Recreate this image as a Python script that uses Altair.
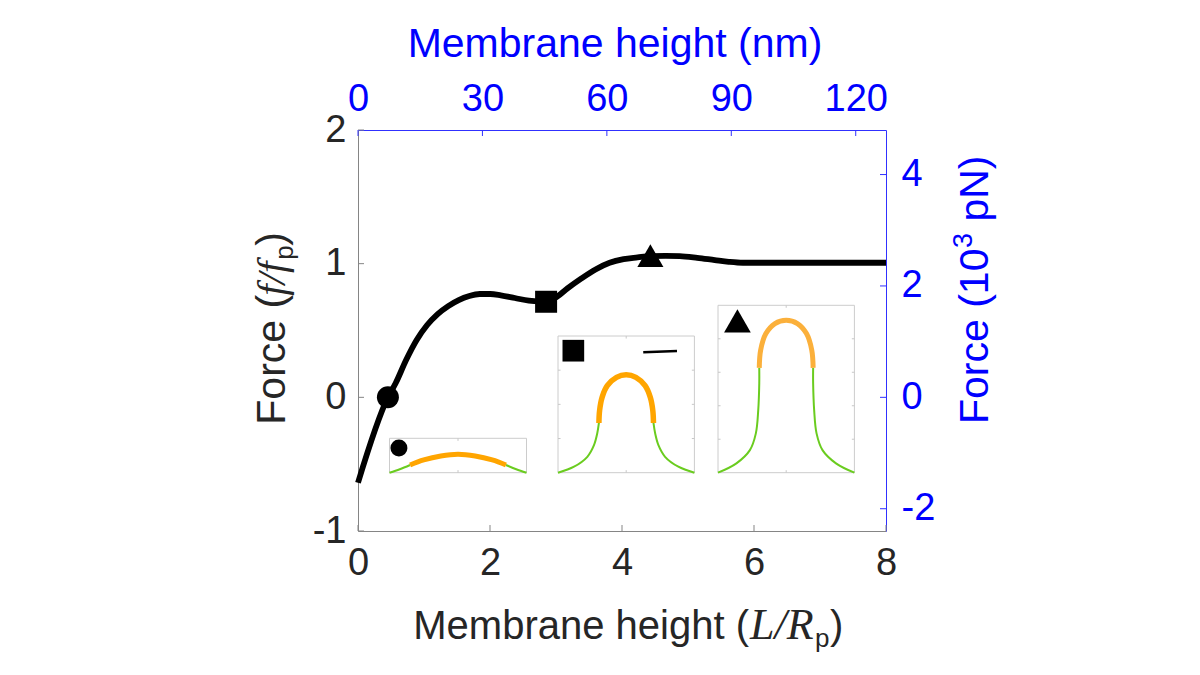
import altair as alt
import pandas as pd

# ---------------- data ----------------
# main force curve (membrane height L/Rp, force f/fp)
curve_x = [0.0, 0.453, 0.570, 0.729, 0.889, 1.048, 1.207, 1.367, 1.526, 1.686, 1.845,
           2.005, 2.164, 2.377, 2.589, 2.839, 3.014, 3.174, 3.386, 3.599, 3.812, 4.024,
           4.237, 4.423, 4.662, 4.874, 5.140, 5.406, 5.618, 5.831, 8.0]
curve_y = [-0.639, 0.0, 0.105, 0.279, 0.429, 0.541, 0.623, 0.683, 0.728, 0.758, 0.773,
           0.773, 0.763, 0.743, 0.723, 0.715, 0.752, 0.815, 0.890, 0.957, 1.007, 1.034,
           1.047, 1.057, 1.059, 1.057, 1.044, 1.027, 1.014, 1.007, 1.007]

marker_x = [0.453, 2.85, 4.43]
marker_y = [0.0, 0.715, 1.06]
marker_shape = ["circle", "square", "triangle-up"]

x_ticks = [0, 2, 4, 6, 8]
y_ticks = [-1, 0, 1, 2]
nm_ticks = [0, 30, 60, 90, 120]
pn_ticks = [-2, 0, 2, 4]

# inset membrane profiles (units of pore radius)
in1_gl_u = [-4.0, -3.4, -2.8]
in1_gl_v = [0.0, 0.2, 0.45]
in1_cap_u = [-2.8, -2.0, -1.0, 0.0, 1.0, 2.0, 2.8]
in1_cap_v = [0.45, 0.74, 0.97, 1.07, 0.97, 0.74, 0.45]
in1_gr_u = [2.8, 3.4, 4.0]
in1_gr_v = [0.45, 0.2, 0.0]

in2_gl_u = [-4.0, -3.06, -2.28, -1.89, -1.70, -1.60]
in2_gl_v = [0.0, 0.35, 0.93, 1.61, 2.29, 2.91]
in2_cap_u = [-1.60, -1.56, -1.41, -1.11, -0.57, 0.0, 0.57, 1.11, 1.41, 1.56, 1.60]
in2_cap_v = [2.91, 3.64, 4.42, 5.09, 5.58, 5.73, 5.58, 5.09, 4.42, 3.64, 2.91]
in2_gr_u = [1.60, 1.70, 1.89, 2.28, 3.06, 4.0]
in2_gr_v = [2.91, 2.29, 1.61, 0.93, 0.35, 0.0]

in3_gl_u = [-4.0, -2.92, -2.13, -1.78, -1.64, -1.58, -1.58]
in3_gl_v = [0.0, 0.56, 1.35, 2.35, 3.74, 5.33, 6.26]
in3_cap_u = [-1.58, -1.50, -1.19, -0.66, 0.0, 0.66, 1.19, 1.50, 1.58]
in3_cap_v = [6.26, 7.32, 8.31, 8.91, 9.10, 8.91, 8.31, 7.32, 6.26]
in3_gr_u = [1.58, 1.58, 1.64, 1.78, 2.13, 2.92, 4.0]
in3_gr_v = [6.26, 5.33, 3.74, 2.35, 1.35, 0.56, 0.0]

inset_marker_u = [-3.45, -3.10, -2.86]
inset_marker_v = [1.44, 7.14, 9.07]
scalebar_u = [1.0, 2.98]
scalebar_v = [7.05, 7.12]

# ---------------- styles ----------------
SANS = "Liberation Sans"
SERIF = "Liberation Serif"
GRAY = "#858585"
LABEL = "#262626"
BLUE = "#0000ff"
BLUE_LINE = "#3030ff"
GREEN = "#6acc1f"
W, H = 528, 401
LBL = 38
TTL = 41
minus_expr = "datum.value < 0 ? '-' + abs(datum.value) : '' + datum.value"

# ---------------- main panel ----------------
x_scale = alt.Scale(domain=[0, 8], nice=False, zero=False)
y_scale = alt.Scale(domain=[-1, 2], nice=False, zero=False)
x_axis = alt.Axis(orient="bottom", values=x_ticks, title="", ticks=False, grid=False,
                  labelFont=SANS, labelFontSize=LBL, labelColor=LABEL, labelPadding=13,
                  labelFlush=False, labelOverlap=False, domainColor=GRAY, domainWidth=1,
                  labelExpr=minus_expr)
y_axis = alt.Axis(orient="left", values=y_ticks, title="", ticks=False, grid=False,
                  labelFont=SANS, labelFontSize=LBL, labelColor=LABEL, labelPadding=12,
                  labelFlush=False, labelOverlap=False, domainColor=GRAY, domainWidth=1,
                  labelExpr=minus_expr)
X_ENC = alt.X("x:Q", scale=x_scale, axis=x_axis)
Y_ENC = alt.Y("y:Q", scale=y_scale, axis=y_axis)

curve_df = pd.DataFrame({"x": curve_x, "y": curve_y})
marker_df = pd.DataFrame({"x": marker_x, "y": marker_y, "shape": marker_shape})

line = alt.Chart(curve_df).mark_line(color="black", strokeWidth=5.8,
                                     interpolate="monotone").encode(x=X_ENC, y=Y_ENC)
marker_sizes = {"circle": 484, "square": 484, "triangle-up": 680}
markers = [
    alt.Chart(marker_df).transform_filter(f"datum.shape == '{s}'").mark_point(
        shape=s, size=marker_sizes[s], filled=True, color="black", opacity=1, strokeWidth=0
    ).encode(x=X_ENC, y=Y_ENC)
    for s in marker_shape
]
left_ticks = alt.Chart(pd.DataFrame({"y": y_ticks})).mark_rule(color=GRAY, strokeWidth=1).encode(
    y=Y_ENC, x=alt.value(0), x2=alt.value(6))
bottom_ticks = alt.Chart(pd.DataFrame({"x": x_ticks})).mark_rule(color=GRAY, strokeWidth=1).encode(
    x=X_ENC, y=alt.value(H), y2=alt.value(H - 6))


def txt(s, x, y, size, color, angle=0, dx=0, dy=0, font=SANS, style="normal", align="left"):
    return alt.Chart(pd.DataFrame({"t": [s]})).mark_text(
        align=align, baseline="alphabetic", font=font, fontStyle=style, fontSize=size,
        color=color, angle=angle, dx=dx, dy=dy
    ).encode(text="t:N", x=alt.value(x), y=alt.value(y))


titles = [
    # bottom title: Membrane height (L/Rp)
    txt("Membrane height (", 391, 509, 40, LABEL, align="right"),
    txt("L/R", 392, 509, 44, LABEL, font=SERIF, style="italic"),
    txt("p", 391, 509, 26, LABEL, dx=66, dy=8),
    txt(")", 391, 509, 40, LABEL, dx=81),
    # left title: Force (f/fp)
    txt("Force (", -73, 294.7, TTL, LABEL, angle=270),
    txt("f/f", -73, 294.7, TTL, LABEL, angle=270, dx=129, font=SERIF, style="italic"),
    txt("p", -73, 294.7, 26, LABEL, angle=270, dx=165, dy=8),
    txt(")", -73, 294.7, TTL, LABEL, angle=270, dx=179),
    # top title
    txt("Membrane height (nm)", 257, -73, TTL, BLUE, align="center"),
    # right title: Force (10^3 pN)
    txt("Force (10", 630, 294, TTL, BLUE, angle=270),
    txt("3", 630, 294, 27, BLUE, angle=270, dx=176, dy=-16),
    txt("pN)", 630, 294, TTL, BLUE, angle=270, dx=202.4),
]

main_group = alt.layer(left_ticks, bottom_ticks, line, *markers, *titles)

# ---------------- secondary axes (nm, 10^3 pN) ----------------
nm_scale = alt.Scale(domain=[0, 127.3], nice=False, zero=False)
pn_scale = alt.Scale(domain=[-2.4, 4.8], nice=False, zero=False)
top_axis = alt.Axis(orient="top", values=nm_ticks, title="", ticks=False, grid=False,
                    labelFont=SANS, labelFontSize=LBL, labelColor=BLUE, labelPadding=12,
                    labelFlush=False, labelOverlap=False, domainColor=BLUE_LINE, domainWidth=1)
right_axis = alt.Axis(orient="right", values=pn_ticks, title="", ticks=False, grid=False,
                      labelFont=SANS, labelFontSize=LBL, labelColor=BLUE, labelPadding=15,
                      labelFlush=False, labelOverlap=False, domainColor=BLUE_LINE, domainWidth=1,
                      labelExpr=minus_expr)
top_ticks = alt.Chart(pd.DataFrame({"nm": nm_ticks})).mark_rule(color=BLUE_LINE, strokeWidth=1).encode(
    x=alt.X("nm:Q", scale=nm_scale, axis=top_axis), y=alt.value(0), y2=alt.value(6))
right_ticks = alt.Chart(pd.DataFrame({"pn": pn_ticks})).mark_rule(color=BLUE_LINE, strokeWidth=1).encode(
    y=alt.Y("pn:Q", scale=pn_scale, axis=right_axis), x=alt.value(W), x2=alt.value(W - 6))
sec_group = alt.layer(top_ticks, right_ticks)


# ---------------- insets ----------------
def membrane_df(gl_u, gl_v, cap_u, cap_v, gr_u, gr_v):
    parts = []
    for seg, uu, vv in (("gl", gl_u, gl_v), ("cap", cap_u, cap_v), ("gr", gr_u, gr_v)):
        parts.append(pd.DataFrame({"u": uu, "v": vv, "seg": seg, "i": range(len(uu))}))
    return pd.concat(parts, ignore_index=True)


def make_inset(mem, dom_y, rng_x, rng_y, yt, cap_color, cap_width, k, mk_size, extra=None):
    dom_x = [-4, 4]
    sx = alt.Scale(domain=dom_x, range=rng_x, nice=False, zero=False)
    sy = alt.Scale(domain=dom_y, range=rng_y, nice=False, zero=False)
    XU = alt.X("u:Q", scale=sx, axis=None)
    YV = alt.Y("v:Q", scale=sy, axis=None)
    frame = alt.Chart(pd.DataFrame({"u": [dom_x[0]], "u1": [dom_x[1]],
                                    "v": [dom_y[0]], "v1": [dom_y[1]]})).mark_rect(
        fill="white", stroke="#cccccc", strokeWidth=1).encode(x=XU, x2="u1:Q", y=YV, y2="v1:Q")
    tk = 0.15
    rows = [(0, 0, dom_y[0], dom_y[0] + tk), (0, 0, dom_y[1], dom_y[1] - tk)]
    for t in yt:
        rows.append((dom_x[0], dom_x[0] + tk, t, t))
        rows.append((dom_x[1], dom_x[1] - tk, t, t))
    tick_df = pd.DataFrame(rows, columns=["u", "u1", "v", "v1"])
    ticks = alt.Chart(tick_df).mark_rule(color="#c8c8c8", strokeWidth=1).encode(
        x=XU, x2="u1:Q", y=YV, y2="v1:Q")
    green = alt.Chart(mem).transform_filter("datum.seg != 'cap'").mark_line(
        color=GREEN, strokeWidth=2, interpolate="catmull-rom").encode(
        x=XU, y=YV, detail="seg:N", order="i:Q")
    cap = alt.Chart(mem).transform_filter("datum.seg == 'cap'").mark_line(
        color=cap_color, strokeWidth=cap_width, interpolate="catmull-rom", strokeCap="butt").encode(
        x=XU, y=YV, order="i:Q")
    mk = alt.Chart(pd.DataFrame({"u": [inset_marker_u[k]], "v": [inset_marker_v[k]]})).mark_point(
        shape=marker_shape[k], size=mk_size, filled=True, color="black", opacity=1, strokeWidth=0
    ).encode(x=XU, y=YV)
    layers = [frame, ticks, green, cap, mk]
    if extra is not None:
        layers.append(extra.encode(x=XU, y=YV))
    return alt.layer(*layers)


mem1 = membrane_df(in1_gl_u, in1_gl_v, in1_cap_u, in1_cap_v, in1_gr_u, in1_gr_v)
mem2 = membrane_df(in2_gl_u, in2_gl_v, in2_cap_u, in2_cap_v, in2_gr_u, in2_gr_v)
mem3 = membrane_df(in3_gl_u, in3_gl_v, in3_cap_u, in3_cap_v, in3_gr_u, in3_gr_v)

scalebar = alt.Chart(pd.DataFrame({"u": scalebar_u, "v": scalebar_v})).mark_line(
    color="black", strokeWidth=2.5)

inset1 = make_inset(mem1, [0, 2], [31.5, 168.5], [342.7, 308.3], [], "#ffa500", 5, 0, 289)
inset2 = make_inset(mem2, [0, 8], [200, 336.4], [342.7, 206], [2, 4, 6], "#ffa500", 5.5, 1, 470,
                    extra=scalebar)
inset3 = make_inset(mem3, [0, 10], [360, 496.4], [342.7, 175.3], [2, 4, 6, 8], "#fbb03b", 5, 2, 713)

chart = alt.layer(main_group, sec_group, inset1, inset2, inset3).resolve_scale(
    x="independent", y="independent"
).properties(
    width=W, height=H,
    autosize=alt.AutoSizeParams(type="none"),
    padding={"left": 350, "top": 122, "right": 300, "bottom": 130},
).configure_view(stroke="transparent")

chart.save("out.html", embed_options={"renderer": "svg", "actions": False})
